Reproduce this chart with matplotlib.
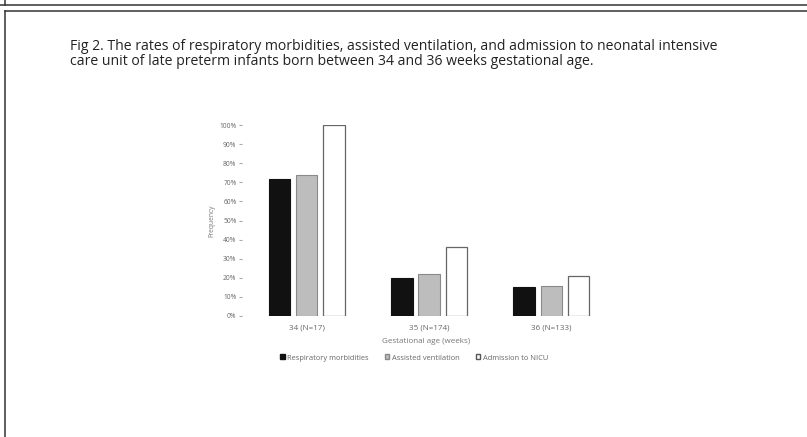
import numpy as np
import matplotlib.pyplot as plt
from matplotlib.lines import Line2D
from matplotlib.patches import Patch

plt.rcParams['font.family'] = ['Open Sans', 'DejaVu Sans']

# data
groups = ['34 (N=17)', '35 (N=174)', '36 (N=133)']
respiratory = [71.6, 19.7, 15.0]
assisted = [73.6, 22.0, 15.9]
nicu = [100.0, 36.3, 21.1]
series_names = ['Respiratory morbidities', 'Assisted ventilation', 'Admission to NICU']
yticks = np.arange(0, 101, 10)

fig = plt.figure(figsize=(8.07, 4.37), dpi=100)

# page frame lines
fig.add_artist(Line2D([0, 1], [1 - 4.5 / 437, 1 - 4.5 / 437], color='#333333', lw=1.1))
fig.add_artist(Line2D([4.5 / 807, 4.5 / 807], [1, 1 - 4.5 / 437], color='#333333', lw=1.1))
fig.add_artist(Line2D([4.5 / 807, 1], [1 - 10.5 / 437, 1 - 10.5 / 437], color='#333333', lw=1.1))
fig.add_artist(Line2D([4.5 / 807, 4.5 / 807], [1 - 10.5 / 437, 0], color='#333333', lw=1.1))

fig.text(70 / 807, 1 - 46 / 437,
         'Fig 2. The rates of respiratory morbidities, assisted ventilation, and admission to neonatal intensive',
         fontsize=10.1, va='center', ha='left', color='#222222')
fig.text(70 / 807, 1 - 61.5 / 437,
         'care unit of late preterm infants born between 34 and 36 weeks gestational age.',
         fontsize=10.1, va='center', ha='left', color='#222222')

ax = fig.add_axes([242 / 807, 1 - 316 / 437, (610 - 242) / 807, 191 / 437])
x = np.arange(len(groups))
w = 0.175
off = 0.222
ax.bar(x - off, respiratory, w, color='#111111', edgecolor='#111111', lw=0.8)
ax.bar(x, assisted, w, color='#bdbdbd', edgecolor='#8a8a8a', lw=0.8)
ax.bar(x + off, nicu, w, color='white', edgecolor='#666666', lw=0.9)

ax.set_xlim(-0.53, 2.48)
ax.set_ylim(0, 100)
ax.set_yticks(yticks)
ax.set_yticklabels([f'{v}%' for v in yticks], fontsize=4.8, color='#666666')
ax.set_xticks(x)
ax.set_xticklabels(groups, fontsize=5.8, color='#666666')
ax.tick_params(axis='y', length=2, color='#aaaaaa', pad=2)
ax.tick_params(axis='x', length=0, pad=6)
for s in ax.spines.values():
    s.set_visible(False)
ax.set_ylabel('Frequency', fontsize=4.8, color='#777777', labelpad=3)
ax.set_xlabel('Gestational age (weeks)', fontsize=5.8, color='#777777', labelpad=5)

handles = [Patch(facecolor='#111111', edgecolor='#111111'),
           Patch(facecolor='#bdbdbd', edgecolor='#8a8a8a'),
           Patch(facecolor='white', edgecolor='#555555')]
fig.legend(handles, series_names, loc='center', bbox_to_anchor=(414 / 807, 1 - 358 / 437),
           ncol=3, frameon=False, fontsize=5.4, handlelength=0.6, handleheight=0.6,
           handletextpad=0.3, columnspacing=2.2, labelcolor='#666666')

fig.savefig('out.png', dpi=100)
